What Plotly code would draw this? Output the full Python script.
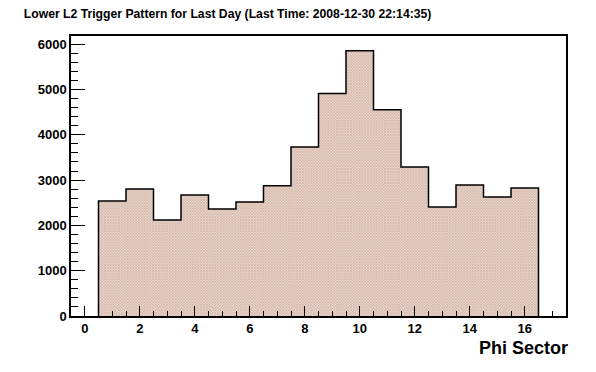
import plotly.graph_objects as go

# Data
sectors = list(range(1, 17))
counts = [2538, 2803, 2117, 2670, 2360, 2515, 2876, 3732,
          4911, 5857, 4551, 3290, 2405, 2891, 2626, 2825]
title_text = "Lower L2 Trigger Pattern for Last Day (Last Time: 2008-12-30 22:14:35)"
x_title = "Phi Sector"

FONT = "Liberation Sans, Arial, sans-serif"

# step outline built from the bin edges
edges = [s - 0.5 for s in sectors] + [sectors[-1] + 0.5]
step_x = [edges[0]] + edges + [edges[-1]]
step_y = [0] + counts + [counts[-1], 0]

fig = go.Figure()
fig.add_trace(go.Bar(
    x=sectors, y=counts, width=1.0,
    marker=dict(color="#ebdcd3", line=dict(width=0),
                pattern=dict(shape="x", fgcolor="#a8694c", bgcolor="#ebdcd3",
                             size=2, solidity=0.5)),
    hoverinfo="skip",
))
fig.add_trace(go.Scatter(
    x=step_x, y=step_y, mode="lines",
    line=dict(color="black", width=1.5, shape="hv"),
    hoverinfo="skip",
))

fig.update_layout(
    width=596, height=372,
    margin=dict(l=71, r=30, t=36, b=56),
    paper_bgcolor="white", plot_bgcolor="white",
    showlegend=False, bargap=0,
    font=dict(family=FONT, size=12, color="black"),
    title=dict(text="<b>" + title_text + "</b>", x=0.04, xanchor="left",
               y=0.962, yanchor="middle", font=dict(family=FONT, size=12.2)),
)
fig.update_xaxes(
    range=[-0.5, 17.5], showgrid=False, zeroline=False,
    showline=True, mirror=True, linecolor="black", linewidth=1.5,
    ticks="inside", ticklen=10, tickwidth=1, tickcolor="black",
    tick0=0, dtick=2,
    minor=dict(ticks="inside", ticklen=5, dtick=0.5, tick0=0, tickcolor="black", showgrid=False),
    tickfont=dict(family=FONT, size=13, color="black", weight="bold"),
)
fig.update_yaxes(
    range=[0, 6180], showgrid=False, zeroline=False,
    showline=True, mirror=True, linecolor="black", linewidth=1.5,
    ticks="inside", ticklen=14, tickwidth=1, tickcolor="black",
    tick0=0, dtick=1000,
    minor=dict(ticks="inside", ticklen=7, dtick=200, tick0=0, tickcolor="black", showgrid=False),
    tickfont=dict(family=FONT, size=13, color="black", weight="bold"),
)
fig.add_annotation(
    text="<b>" + x_title + "</b>", xref="paper", yref="paper",
    x=1.008, y=-0.115, xanchor="right", yanchor="middle", showarrow=False,
    font=dict(family=FONT, size=18, color="black"),
)

fig.write_html("out.html", config={"displayModeBar": False},
               post_script="document.body.style.margin='0';document.body.style.padding='0';")
